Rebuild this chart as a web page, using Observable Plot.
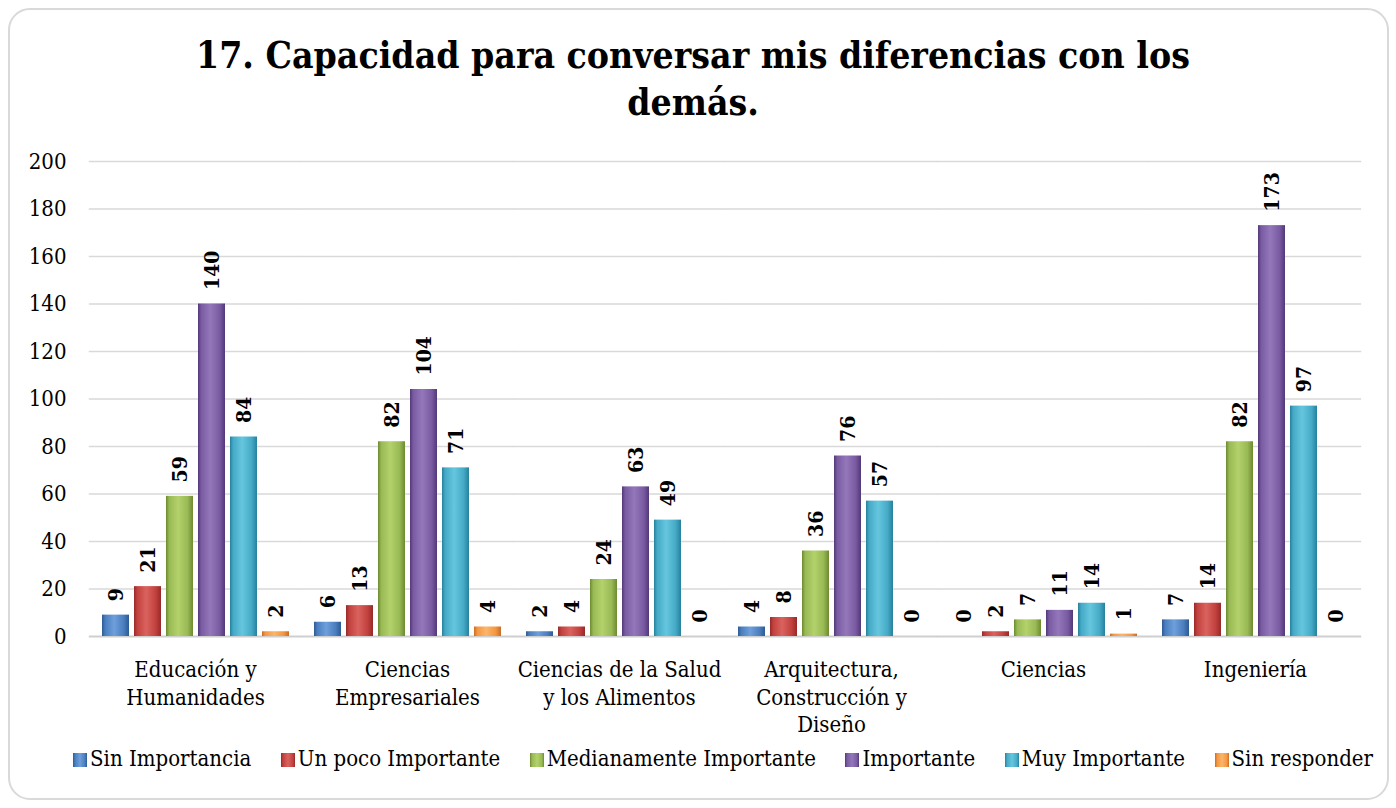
<!DOCTYPE html>
<html>
<head>
<meta charset="utf-8">
<script src="https://cdn.jsdelivr.net/npm/d3@7"></script>
<script src="https://cdn.jsdelivr.net/npm/@observablehq/plot@0.6"></script>
<style>
  html, body { margin: 0; padding: 0; background: #fff; }
  body { width: 1396px; height: 808px; position: relative; overflow: hidden;
         font-family: "DejaVu Serif Condensed", "DejaVu Serif", serif; color: #000; }
  #frame { position: absolute; left: 8px; top: 8px; width: 1381px; height: 792px;
           box-sizing: border-box; border: 2px solid #d9d9d9; border-radius: 22px; }
  #title { position: absolute; left: 0; top: 32px; width: 1386px; text-align: center;
           font-weight: bold; font-size: 37px; line-height: 47px; }
  #chart { position: absolute; left: 0; top: 130px; }
  #legend { position: absolute; left: 73px; top: 745px; width: 1300px; display: flex;
            justify-content: space-between; font-size: 22px; line-height: 28px; }
  #legend .item { display: flex; align-items: center; white-space: nowrap; }
  #legend .sw { width: 14px; height: 14px; margin-right: 3px; margin-top: 2px; }
</style>
</head>
<body>
<div id="frame"></div>
<div id="title">17. Capacidad para conversar mis diferencias con los<br>demás.</div>
<svg width="0" height="0" style="position:absolute">
  <defs id="defs"></defs>
</svg>
<div id="chart"></div>
<div id="legend"></div>
<script>
// ---- data ----
const categories = [
  "Educación y Humanidades",
  "Ciencias Empresariales",
  "Ciencias de la Salud y los Alimentos",
  "Arquitectura, Construcción y Diseño",
  "Ciencias",
  "Ingeniería"
];
const categoryLabels = [
  "Educación y\nHumanidades",
  "Ciencias\nEmpresariales",
  "Ciencias de la Salud\ny los Alimentos",
  "Arquitectura,\nConstrucción y\nDiseño",
  "Ciencias",
  "Ingeniería"
];
const series = ["Sin Importancia", "Un poco Importante", "Medianamente Importante", "Importante", "Muy Importante", "Sin responder"];
const sinImportancia      = [9, 6, 2, 4, 0, 7];
const unPocoImportante    = [21, 13, 4, 8, 2, 14];
const medianamente        = [59, 82, 24, 36, 7, 82];
const importante          = [140, 104, 63, 76, 11, 173];
const muyImportante       = [84, 71, 49, 57, 14, 97];
const sinResponder        = [2, 4, 0, 0, 1, 0];
const yTicks = [0, 20, 40, 60, 80, 100, 120, 140, 160, 180, 200];

// ---- colours (dark edge, base, light centre) ----
const palette = [
  ["#2d5a92", "#4a7ebf", "#6f9fdb"],
  ["#952a28", "#c2413e", "#da635f"],
  ["#6d8a30", "#98b954", "#b3d26c"],
  ["#533878", "#7a5ba3", "#9477ba"],
  ["#27819b", "#45aac7", "#66c6de"],
  ["#c66e28", "#f59640", "#fbb56c"]
];

const defs = document.getElementById("defs");
palette.forEach(([dark, base, light], i) => {
  const g = document.createElementNS("http://www.w3.org/2000/svg", "linearGradient");
  g.setAttribute("id", "grad" + i);
  g.setAttribute("x1", "0"); g.setAttribute("x2", "1"); g.setAttribute("y1", "0"); g.setAttribute("y2", "0");
  [[0, dark], [0.12, base], [0.45, light], [0.8, base], [1, dark]].forEach(([o, c]) => {
    const s = document.createElementNS("http://www.w3.org/2000/svg", "stop");
    s.setAttribute("offset", o); s.setAttribute("stop-color", c);
    g.appendChild(s);
  });
  defs.appendChild(g);
});

const valueArrays = [sinImportancia, unPocoImportante, medianamente, importante, muyImportante, sinResponder];
const table = [];
categories.forEach((c, ci) => {
  series.forEach((s, si) => {
    table.push({category: c, series: s, value: valueArrays[si][ci]});
  });
});

const labelOf = new Map(categories.map((c, i) => [c, categoryLabels[i]]));

// half of the gap between facet groups, so gridlines run continuously
const halfGap = -12.2;

const chart = Plot.plot({
  width: 1396,
  height: 620,
  marginTop: 31,
  marginBottom: 114,
  marginLeft: 88,
  marginRight: 34,
  style: {fontFamily: '"DejaVu Serif Condensed", "DejaVu Serif", serif', fontSize: "22px", color: "#000", background: "transparent"},
  fx: {domain: categories, paddingInner: 0.1145, paddingOuter: 0.0573, label: null},
  x: {domain: series, paddingInner: 0.1615, paddingOuter: 0, axis: null},
  y: {domain: [0, 200], axis: null},
  color: {domain: series, range: series.map((s, i) => `url(#grad${i})`)},
  marks: [
    Plot.ruleY(yTicks.filter(t => t > 0), {stroke: "#d9d9d9", strokeWidth: 1.3, insetLeft: halfGap, insetRight: halfGap}),
    Plot.ruleY([0], {stroke: "#cfcfcf", strokeWidth: 2, insetLeft: halfGap, insetRight: halfGap}),
    Plot.axisY({ticks: yTicks, tickSize: 0, tickPadding: 35, fontSize: 22, anchor: "left", label: null}),
    Plot.axisFx({anchor: "bottom", tickSize: 0, tickPadding: 21, fontSize: 22, lineHeight: 1.25,
                 tickFormat: d => labelOf.get(d), label: null}),
    Plot.barY(table, {fx: "category", x: "series", y: "value", fill: "series"}),
    Plot.text(table, {fx: "category", x: "series", y: "value", text: d => String(d.value),
                      rotate: -90, textAnchor: "start", lineAnchor: "middle", dy: -14,
                      fontWeight: "bold", fontSize: 21, fill: "#000"})
  ]
});
document.getElementById("chart").appendChild(chart);

// ---- legend ----
const legend = document.getElementById("legend");
series.forEach((s, i) => {
  const [dark, base, light] = palette[i];
  const item = document.createElement("div");
  item.className = "item";
  const sw = document.createElement("span");
  sw.className = "sw";
  sw.style.background = `linear-gradient(90deg, ${dark} 0%, ${base} 15%, ${light} 50%, ${base} 85%, ${dark} 100%)`;
  item.appendChild(sw);
  const t = document.createElement("span");
  t.textContent = s;
  item.appendChild(t);
  legend.appendChild(item);
});
</script>
</body>
</html>
